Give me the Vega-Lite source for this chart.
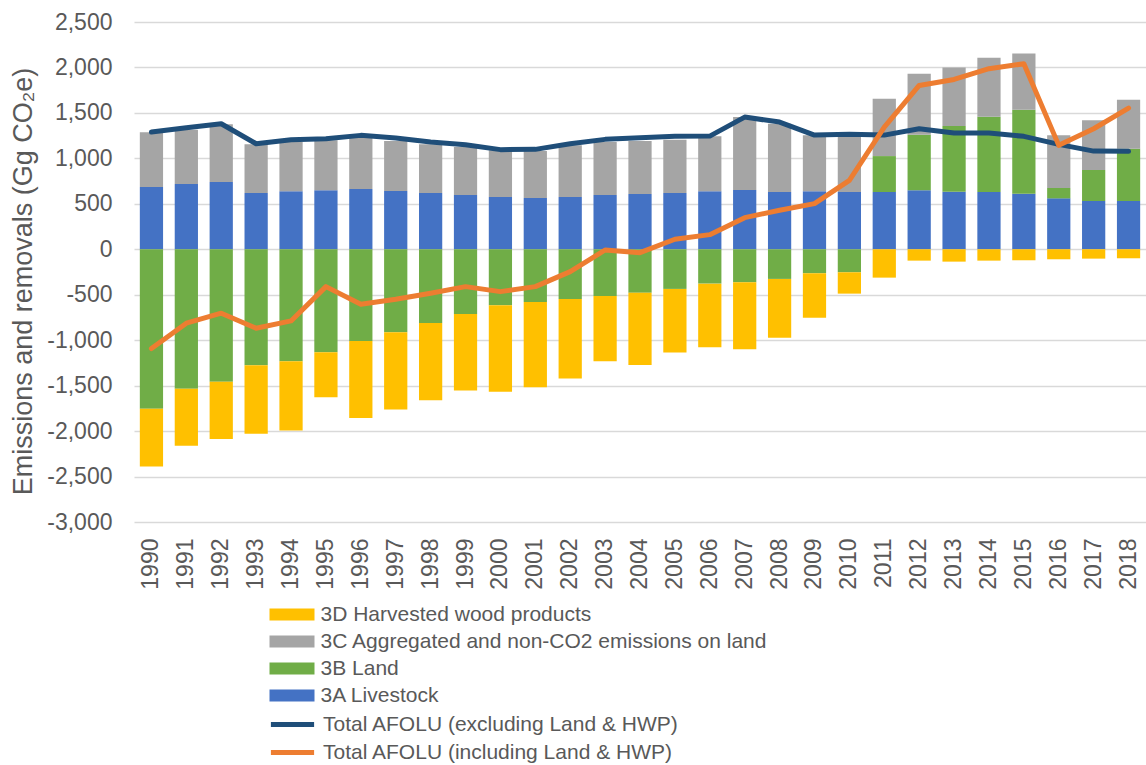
{
  "$schema": "https://vega.github.io/schema/vega-lite/v6.json",
  "width": 1012,
  "height": 500,
  "autosize": {"type": "none"},
  "padding": {"left": 134, "top": 22, "right": 0, "bottom": 243},
  "background": "white",
  "config": {
    "font": "Liberation Sans",
    "view": {"stroke": null},
    "legend": {"padding": 0, "titlePadding": 0}
  },
  "data": {
    "values": [
      {"year": "1990", "3A Livestock": 685, "3B Land": -1755, "3C Aggregated and non-CO2 emissions on land": 601, "3D Harvested wood products": -634, "Total AFOLU (excluding Land & HWP)": 1289, "Total AFOLU (including Land & HWP)": -1092},
      {"year": "1991", "3A Livestock": 718, "3B Land": -1535, "3C Aggregated and non-CO2 emissions on land": 597, "3D Harvested wood products": -627, "Total AFOLU (excluding Land & HWP)": 1337, "Total AFOLU (including Land & HWP)": -813},
      {"year": "1992", "3A Livestock": 740, "3B Land": -1458, "3C Aggregated and non-CO2 emissions on land": 634, "3D Harvested wood products": -630, "Total AFOLU (excluding Land & HWP)": 1381, "Total AFOLU (including Land & HWP)": -703},
      {"year": "1993", "3A Livestock": 619, "3B Land": -1275, "3C Aggregated and non-CO2 emissions on land": 535, "3D Harvested wood products": -755, "Total AFOLU (excluding Land & HWP)": 1161, "Total AFOLU (including Land & HWP)": -868},
      {"year": "1994", "3A Livestock": 637, "3B Land": -1231, "3C Aggregated and non-CO2 emissions on land": 542, "3D Harvested wood products": -762, "Total AFOLU (excluding Land & HWP)": 1205, "Total AFOLU (including Land & HWP)": -788},
      {"year": "1995", "3A Livestock": 648, "3B Land": -1132, "3C Aggregated and non-CO2 emissions on land": 550, "3D Harvested wood products": -495, "Total AFOLU (excluding Land & HWP)": 1216, "Total AFOLU (including Land & HWP)": -411},
      {"year": "1996", "3A Livestock": 663, "3B Land": -1008, "3C Aggregated and non-CO2 emissions on land": 564, "3D Harvested wood products": -849, "Total AFOLU (excluding Land & HWP)": 1253, "Total AFOLU (including Land & HWP)": -604},
      {"year": "1997", "3A Livestock": 641, "3B Land": -912, "3C Aggregated and non-CO2 emissions on land": 549, "3D Harvested wood products": -851, "Total AFOLU (excluding Land & HWP)": 1223, "Total AFOLU (including Land & HWP)": -550},
      {"year": "1998", "3A Livestock": 619, "3B Land": -810, "3C Aggregated and non-CO2 emissions on land": 535, "3D Harvested wood products": -850, "Total AFOLU (excluding Land & HWP)": 1179, "Total AFOLU (including Land & HWP)": -484},
      {"year": "1999", "3A Livestock": 597, "3B Land": -711, "3C Aggregated and non-CO2 emissions on land": 527, "3D Harvested wood products": -843, "Total AFOLU (excluding Land & HWP)": 1150, "Total AFOLU (including Land & HWP)": -411},
      {"year": "2000", "3A Livestock": 575, "3B Land": -615, "3C Aggregated and non-CO2 emissions on land": 513, "3D Harvested wood products": -953, "Total AFOLU (excluding Land & HWP)": 1096, "Total AFOLU (including Land & HWP)": -466},
      {"year": "2001", "3A Livestock": 564, "3B Land": -579, "3C Aggregated and non-CO2 emissions on land": 516, "3D Harvested wood products": -938, "Total AFOLU (excluding Land & HWP)": 1099, "Total AFOLU (including Land & HWP)": -411},
      {"year": "2002", "3A Livestock": 575, "3B Land": -546, "3C Aggregated and non-CO2 emissions on land": 568, "3D Harvested wood products": -876, "Total AFOLU (excluding Land & HWP)": 1161, "Total AFOLU (including Land & HWP)": -246},
      {"year": "2003", "3A Livestock": 597, "3B Land": -513, "3C Aggregated and non-CO2 emissions on land": 582, "3D Harvested wood products": -718, "Total AFOLU (excluding Land & HWP)": 1209, "Total AFOLU (including Land & HWP)": -8},
      {"year": "2004", "3A Livestock": 608, "3B Land": -477, "3C Aggregated and non-CO2 emissions on land": 582, "3D Harvested wood products": -795, "Total AFOLU (excluding Land & HWP)": 1227, "Total AFOLU (including Land & HWP)": -37},
      {"year": "2005", "3A Livestock": 619, "3B Land": -436, "3C Aggregated and non-CO2 emissions on land": 586, "3D Harvested wood products": -700, "Total AFOLU (excluding Land & HWP)": 1242, "Total AFOLU (including Land & HWP)": 110},
      {"year": "2006", "3A Livestock": 637, "3B Land": -378, "3C Aggregated and non-CO2 emissions on land": 605, "3D Harvested wood products": -699, "Total AFOLU (excluding Land & HWP)": 1245, "Total AFOLU (including Land & HWP)": 161},
      {"year": "2007", "3A Livestock": 652, "3B Land": -363, "3C Aggregated and non-CO2 emissions on land": 802, "3D Harvested wood products": -736, "Total AFOLU (excluding Land & HWP)": 1454, "Total AFOLU (including Land & HWP)": 348},
      {"year": "2008", "3A Livestock": 630, "3B Land": -326, "3C Aggregated and non-CO2 emissions on land": 751, "3D Harvested wood products": -646, "Total AFOLU (excluding Land & HWP)": 1399, "Total AFOLU (including Land & HWP)": 429},
      {"year": "2009", "3A Livestock": 637, "3B Land": -264, "3C Aggregated and non-CO2 emissions on land": 616, "3D Harvested wood products": -488, "Total AFOLU (excluding Land & HWP)": 1256, "Total AFOLU (including Land & HWP)": 502},
      {"year": "2010", "3A Livestock": 630, "3B Land": -253, "3C Aggregated and non-CO2 emissions on land": 604, "3D Harvested wood products": -235, "Total AFOLU (excluding Land & HWP)": 1264, "Total AFOLU (including Land & HWP)": 758},
      {"year": "2011", "3A Livestock": 630, "3B Land": 395, "3C Aggregated and non-CO2 emissions on land": 631, "3D Harvested wood products": -312, "Total AFOLU (excluding Land & HWP)": 1256, "Total AFOLU (including Land & HWP)": 1344},
      {"year": "2012", "3A Livestock": 648, "3B Land": 612, "3C Aggregated and non-CO2 emissions on land": 671, "3D Harvested wood products": -125, "Total AFOLU (excluding Land & HWP)": 1326, "Total AFOLU (including Land & HWP)": 1802},
      {"year": "2013", "3A Livestock": 634, "3B Land": 721, "3C Aggregated and non-CO2 emissions on land": 645, "3D Harvested wood products": -136, "Total AFOLU (excluding Land & HWP)": 1278, "Total AFOLU (including Land & HWP)": 1868},
      {"year": "2014", "3A Livestock": 630, "3B Land": 828, "3C Aggregated and non-CO2 emissions on land": 649, "3D Harvested wood products": -125, "Total AFOLU (excluding Land & HWP)": 1278, "Total AFOLU (including Land & HWP)": 1986},
      {"year": "2015", "3A Livestock": 612, "3B Land": 923, "3C Aggregated and non-CO2 emissions on land": 619, "3D Harvested wood products": -121, "Total AFOLU (excluding Land & HWP)": 1242, "Total AFOLU (including Land & HWP)": 2041},
      {"year": "2016", "3A Livestock": 560, "3B Land": 114, "3C Aggregated and non-CO2 emissions on land": 579, "3D Harvested wood products": -110, "Total AFOLU (excluding Land & HWP)": 1154, "Total AFOLU (including Land & HWP)": 1143},
      {"year": "2017", "3A Livestock": 531, "3B Land": 341, "3C Aggregated and non-CO2 emissions on land": 546, "3D Harvested wood products": -103, "Total AFOLU (excluding Land & HWP)": 1080, "Total AFOLU (including Land & HWP)": 1326},
      {"year": "2018", "3A Livestock": 531, "3B Land": 576, "3C Aggregated and non-CO2 emissions on land": 538, "3D Harvested wood products": -99, "Total AFOLU (excluding Land & HWP)": 1077, "Total AFOLU (including Land & HWP)": 1553}
    ]
  },
  "transform": [
    {"fold": ["3A Livestock", "3B Land", "3C Aggregated and non-CO2 emissions on land", "3D Harvested wood products", "Total AFOLU (excluding Land & HWP)", "Total AFOLU (including Land & HWP)"], "as": ["series", "value"]}
  ],
  "encoding": {
    "x": {
      "field": "year",
      "type": "ordinal",
      "scale": {"paddingInner": 0.334, "paddingOuter": 0.167},
      "axis": {
        "title": null,
        "labelAngle": 270,
        "labelFontSize": 23,
        "labelColor": "#595959",
        "labelPadding": 16,
        "ticks": false,
        "domain": false,
        "grid": false
      }
    }
  },
  "layer": [
    {
      "transform": [{"filter": {"field": "series", "oneOf": ["3A Livestock", "3B Land", "3C Aggregated and non-CO2 emissions on land", "3D Harvested wood products"]}}],
      "mark": {"type": "bar"},
      "encoding": {
        "y": {
          "field": "value",
          "type": "quantitative",
          "stack": "zero",
          "scale": {"domain": [-3000, 2500], "nice": false, "zero": false},
          "axis": {
            "title": "Emissions and removals (Gg CO₂e)",
            "titleFontSize": 27,
            "titleFontWeight": "normal",
            "titleColor": "#595959",
            "titleAngle": 270,
            "titleX": -111,
            "titleY": 259,
            "titleAlign": "center",
            "titleBaseline": "middle",
            "values": [-3000, -2500, -2000, -1500, -1000, -500, 0, 500, 1000, 1500, 2000, 2500],
            "labelExpr": "replace(format(datum.value, ','), '−', '-')",
            "labelFontSize": 23,
            "labelColor": "#595959",
            "labelPadding": 22,
            "ticks": false,
            "domain": false,
            "grid": true,
            "gridColor": "#D9D9D9",
            "gridWidth": 1.5
          }
        },
        "color": {
          "field": "series",
          "type": "nominal",
          "scale": {
            "domain": ["3D Harvested wood products", "3C Aggregated and non-CO2 emissions on land", "3B Land", "3A Livestock"],
            "range": ["#FFC000", "#A5A5A5", "#70AD47", "#4472C4"]
          },
          "legend": {
            "title": null,
            "orient": "none",
            "legendX": 136,
            "legendY": 582,
            "direction": "vertical",
            "symbolType": "M-3.75,-1H3.75V1H-3.75Z",
            "symbolSize": 144,
            "symbolStrokeWidth": 0,
            "symbolOffset": 11.5,
            "symbolOpacity": 1,
            "labelOffset": 18,
            "labelFontSize": 21,
            "labelColor": "#595959",
            "labelLimit": 800,
            "rowPadding": 5
          }
        },
        "order": {"field": "series", "sort": "ascending"}
      }
    },
    {
      "transform": [{"filter": {"field": "series", "oneOf": ["Total AFOLU (excluding Land & HWP)", "Total AFOLU (including Land & HWP)"]}}],
      "mark": {"type": "line", "strokeWidth": 5, "strokeCap": "round", "strokeJoin": "round"},
      "encoding": {
        "y": {"field": "value", "type": "quantitative", "stack": null},
        "stroke": {
          "field": "series",
          "type": "nominal",
          "scale": {
            "domain": ["Total AFOLU (excluding Land & HWP)", "Total AFOLU (including Land & HWP)"],
            "range": ["#1F4E79", "#ED7D31"]
          },
          "legend": {
            "title": null,
            "orient": "none",
            "legendX": 136,
            "legendY": 692,
            "direction": "vertical",
            "symbolType": "M-3.6,0H3.6",
            "symbolSize": 144,
            "symbolStrokeWidth": 5,
            "symbolOffset": 12,
            "labelOffset": 20,
            "labelFontSize": 21,
            "labelColor": "#595959",
            "labelLimit": 800,
            "rowPadding": 6
          }
        }
      }
    }
  ]
}
